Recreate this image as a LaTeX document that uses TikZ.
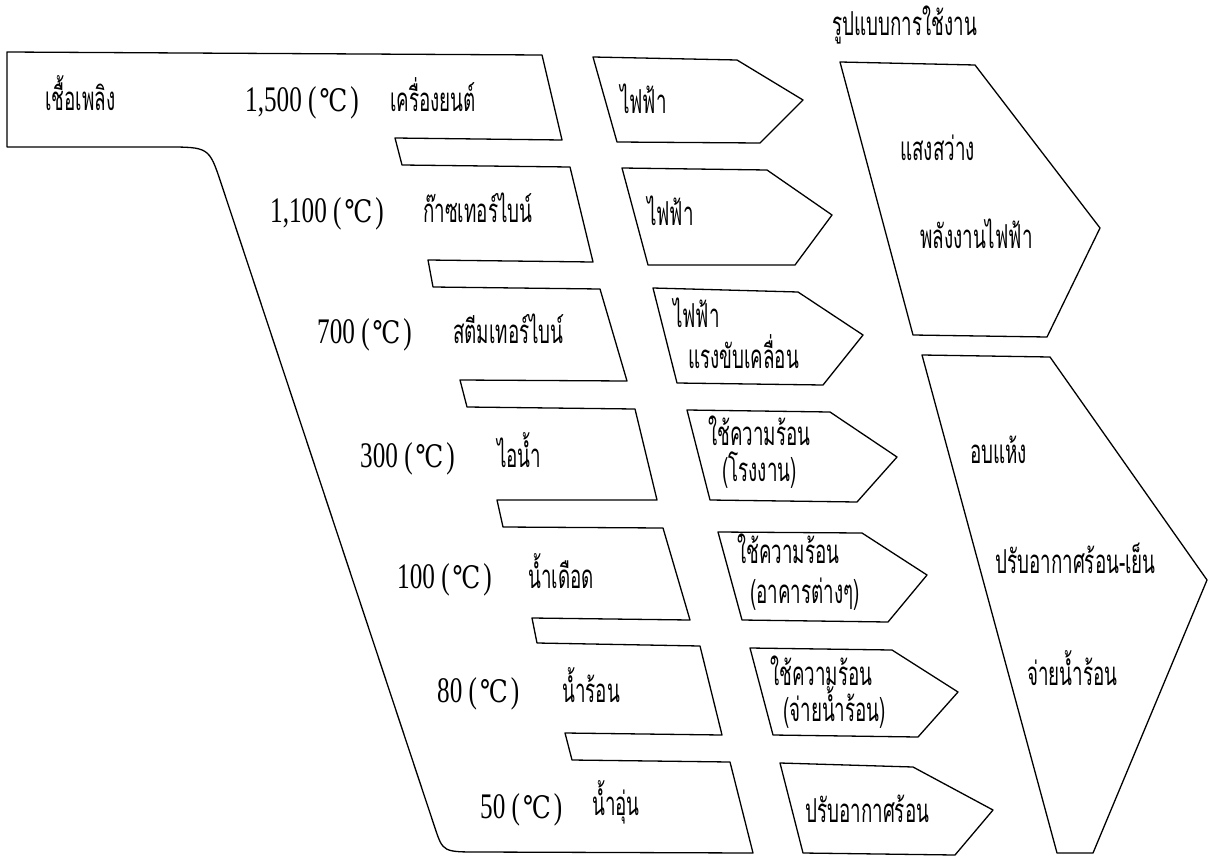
\documentclass[tikz,border=0pt]{standalone}
\usepackage{fontspec}
\newfontfamily\thaiF[Script=Thai,FakeStretch=0.57]{Loma}
\newfontfamily\numF[FakeStretch=0.7]{Liberation Serif}
\newfontfamily\degF[FakeStretch=0.8]{DejaVu Serif}
\newcommand{\tempC}[1]{{\numF #1 (\kern3pt{\degF\fontsize{31}{34}\selectfont ℃}\kern3pt)}}
\tikzset{
  shp/.style={draw, line width=1.3pt, line join=round},
  tx/.style={anchor=base west, inner sep=0pt, font={\thaiF\fontsize{33}{36}\selectfont}},
  nx/.style={anchor=base west, inner sep=0pt, font={\numF\fontsize{36}{40}\selectfont}}
}
\begin{document}
\begin{tikzpicture}[x=1pt,y=-1pt]
\useasboundingbox (0,0) rectangle (1214,859);
% main funnel
\draw[shp] (7,52) -- (542,55) -- (562,140) -- (395,138) -- (402,165) -- (570,167) -- (593,262)
  -- (428,260) -- (433,287) -- (600,289) -- (627,381) -- (460,380) -- (467,407) -- (635,409)
  -- (657,500) -- (497,500) -- (503,527) -- (663,528) -- (690,620) -- (532,618) -- (537,643)
  -- (700,646) -- (722,735) -- (565,733) -- (572,760) -- (730,762) -- (753,853)
  -- (480,852) .. controls (443,852) .. (435,828) -- (221,183) .. controls (209,147) .. (165,147)
  -- (7,147) -- cycle;
% middle arrows
\draw[shp] (593,57) -- (737,60) -- (803,100) -- (760,143) -- (617,142) -- cycle;
\draw[shp] (622,168) -- (767,170) -- (832,215) -- (795,265) -- (648,265) -- cycle;
\draw[shp] (653,288) -- (798,292) -- (863,335) -- (823,385) -- (677,383) -- cycle;
\draw[shp] (687,410) -- (830,412) -- (897,457) -- (857,502) -- (710,500) -- cycle;
\draw[shp] (718,532) -- (862,533) -- (927,575) -- (888,622) -- (742,620) -- cycle;
\draw[shp] (750,648) -- (892,650) -- (958,692) -- (918,737) -- (773,735) -- cycle;
\draw[shp] (780,763) -- (913,767) -- (993,810) -- (955,855) -- (803,853) -- cycle;
% big arrows
\draw[shp] (840,62) -- (975,65) -- (1100,228) -- (1047,337) -- (913,335) -- cycle;
\draw[shp] (922,355) -- (1050,357) -- (1207,580) -- (1093,853) -- (1057,853) -- cycle;
% texts
\node[tx] (title) at (832,36) {รูปแบบการใช้งาน};
\node[tx] (fuel) at (45,110) {เชื้อเพลิง};
\node[nx] (t1) at (245,111) {\tempC{1,500}};
\node[tx] (s1) at (390,111) {เครื่องยนต์};
\node[tx] (u1) at (620,113) {ไฟฟ้า};
\node[nx] (t2) at (270,222) {\tempC{1,100}};
\node[tx] (s2) at (423,222) {ก๊าซเทอร์ไบน์};
\node[tx] (u2) at (647,225) {ไฟฟ้า};
\node[nx] (t3) at (317,343) {\tempC{700}};
\node[tx] (s3) at (453,343) {สตีมเทอร์ไบน์};
\node[tx] (u3a) at (673,327) {ไฟฟ้า};
\node[tx] (u3b) at (688,368) {แรงขับเคลื่อน};
\node[nx] (t4) at (360,467) {\tempC{300}};
\node[tx] (s4) at (497,467) {ไอน้ำ};
\node[tx] (u4a) at (708,445) {ใช้ความร้อน};
\node[tx] (u4b) at (722,481) {(โรงงาน)};
\node[nx] (t5) at (397,588) {\tempC{100}};
\node[tx] (s5) at (528,588) {น้ำเดือด};
\node[tx] (u5a) at (737,563) {ใช้ความร้อน};
\node[tx] (u5b) at (750,603) {(อาคารต่างๆ)};
\node[nx] (t6) at (437,702) {\tempC{80}};
\node[tx] (s6) at (562,702) {น้ำร้อน};
\node[tx] (u6a) at (770,685) {ใช้ความร้อน};
\node[tx] (u6b) at (783,721) {(จ่ายน้ำร้อน)};
\node[nx] (t7) at (480,818) {\tempC{50}};
\node[tx] (s7) at (592,815) {น้ำอุ่น};
\node[tx] (u7) at (805,822) {ปรับอากาศร้อน};
\node[tx] (b1a) at (900,160) {แสงสว่าง};
\node[tx] (b1b) at (920,248) {พลังงานไฟฟ้า};
\node[tx] (b2a) at (970,463) {อบแห้ง};
\node[tx] (b2b) at (995,573) {ปรับอากาศร้อน-เย็น};
\node[tx] (b2c) at (1027,685) {จ่ายน้ำร้อน};
\end{tikzpicture}
\end{document}
